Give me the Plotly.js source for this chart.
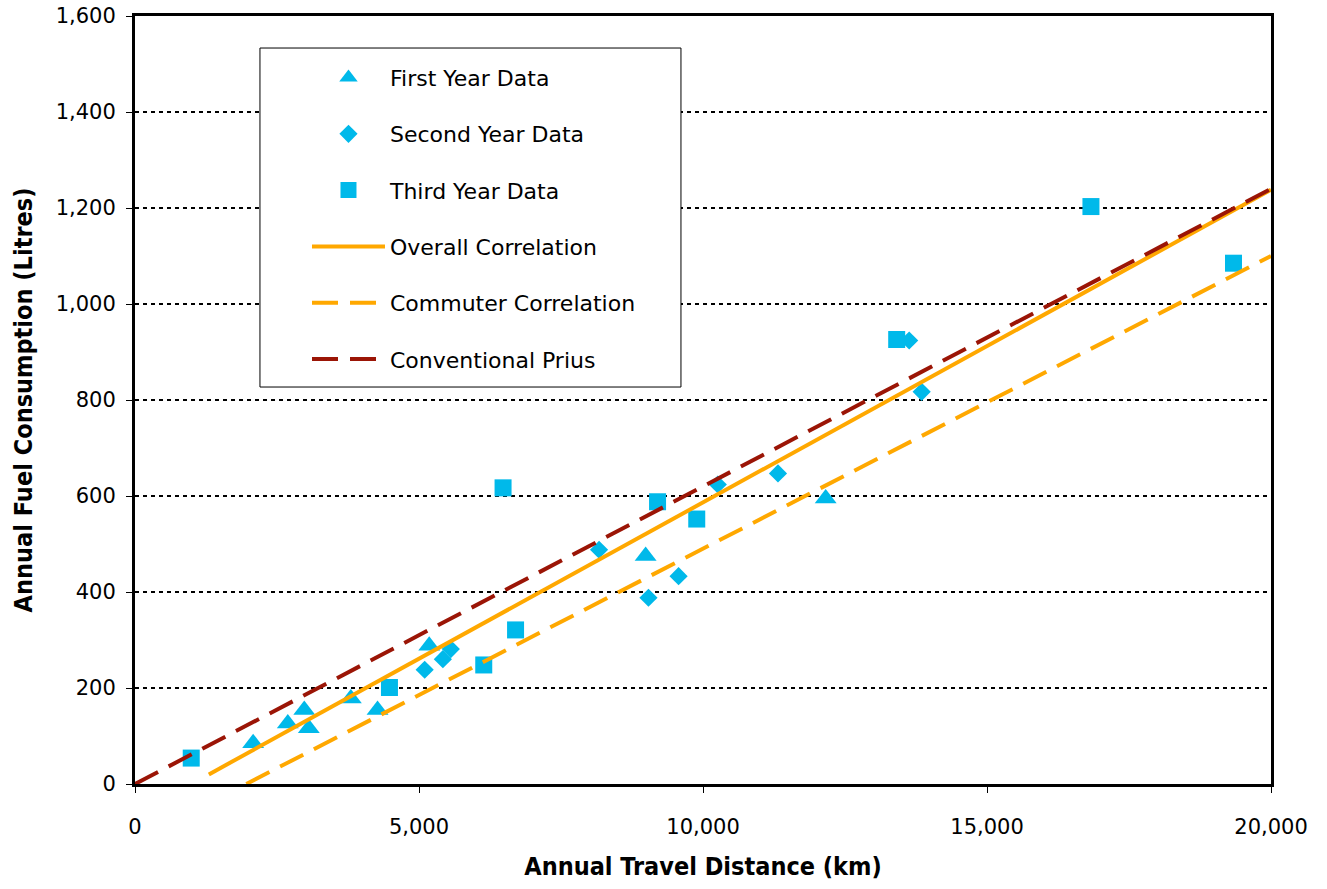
<!DOCTYPE html>
<html>
<head>
<meta charset="utf-8">
<script src="https://cdn.plot.ly/plotly-3.0.1.min.js"></script>
<style>html,body{margin:0;padding:0;background:#fff;}#chart{width:1327px;height:889px;}</style>
</head>
<body>
<div id="chart"></div>
<script>
// First year data (km, litres)
const firstYearX = [2080, 2690, 2980, 3060, 3800, 4270, 5180, 8990, 12160];
const firstYearY = [85, 126, 154, 116, 178, 154, 288, 475, 595];
// Second year data
const secondYearX = [5100, 5420, 5560, 8170, 9040, 9570, 10260, 11320, 13630, 13850];
const secondYearY = [238, 260, 281, 488, 388, 433, 624, 647, 924, 817];
// Third year data
const thirdYearX = [990, 4480, 6140, 6700, 6480, 9200, 9890, 13410, 16830, 19340];
const thirdYearY = [54, 201, 248, 321, 617, 588, 552, 926, 1203, 1085];
// Correlation lines (end points)
const overallX = [1300, 20000];
const overallY = [20, 1238];
const commuterX = [1960, 20000];
const commuterY = [0, 1100];
const priusX = [0, 20000];
const priusY = [0, 1240];

const cyan = '#00B9EA';
const orange = '#FFA800';
const darkRed = '#9B1506';
const tickFont = {family: 'DejaVu Sans, sans-serif', size: 21, color: '#000'};
const titleFont = {family: 'DejaVu Sans Condensed, DejaVu Sans, sans-serif', size: 25, color: '#000', weight: 'bold'};

const traces = [
  {x: firstYearX, y: firstYearY, name: 'First Year Data', mode: 'markers', type: 'scatter', legendgroup: 'a',
   marker: {symbol: 'triangle-up', size: 19, color: cyan}},
  {x: secondYearX, y: secondYearY, name: 'Second Year Data', mode: 'markers', type: 'scatter', legendgroup: 'b',
   marker: {symbol: 'diamond', size: 14, color: cyan}},
  {x: thirdYearX, y: thirdYearY, name: 'Third Year Data', mode: 'markers', type: 'scatter', legendgroup: 'c',
   marker: {symbol: 'square', size: 17, color: cyan}},
  {x: overallX, y: overallY, name: 'Overall Correlation', mode: 'lines', type: 'scatter', legendgroup: 'd',
   line: {color: orange, width: 4}},
  {x: commuterX, y: commuterY, name: 'Commuter Correlation', mode: 'lines', type: 'scatter', legendgroup: 'e',
   line: {color: orange, width: 4, dash: '26px,12px'}},
  {x: priusX, y: priusY, name: 'Conventional Prius', mode: 'lines', type: 'scatter', legendgroup: 'f',
   line: {color: darkRed, width: 4, dash: '26px,12px'}}
];

const layout = {
  width: 1327, height: 889,
  margin: {l: 135, r: 56, t: 16, b: 105},
  paper_bgcolor: '#fff', plot_bgcolor: '#fff',
  showlegend: true,
  legend: {
    x: 0.1514, y: 0.947, xanchor: 'left', yanchor: 'top',
    bgcolor: 'rgba(0,0,0,0)', borderwidth: 0,
    font: {family: 'DejaVu Sans, sans-serif', size: 22, color: '#000'},
    itemwidth: 73, traceorder: 'grouped', tracegroupgap: 24.7
  },
  shapes: [
    {type: 'rect', xref: 'paper', yref: 'paper', x0: 0.110, x1: 0.4806, y0: 0.5169, y1: 0.9583,
     fillcolor: '#fff', line: {color: '#000', width: 1}, layer: 'above'}
  ],
  xaxis: {
    range: [0, 20000], tickvals: [0, 5000, 10000, 15000, 20000], tickformat: ',d',
    showgrid: false, zeroline: false,
    showline: true, mirror: true, linecolor: '#000', linewidth: 3,
    ticks: 'outside', ticklen: 6, tickwidth: 1, tickcolor: '#000',
    tickfont: tickFont, ticklabelstandoff: 16,
    title: {text: 'Annual Travel Distance (km)', font: titleFont, standoff: 20}
  },
  yaxis: {
    range: [0, 1600], tickvals: [0, 200, 400, 600, 800, 1000, 1200, 1400, 1600], tickformat: ',d',
    showgrid: true, gridcolor: '#000', gridwidth: 1.3, griddash: '4px,4px',
    zeroline: false,
    showline: true, mirror: true, linecolor: '#000', linewidth: 3,
    ticks: 'outside', ticklen: 6, tickwidth: 1, tickcolor: '#000',
    tickfont: tickFont, ticklabelstandoff: 6,
    title: {text: 'Annual Fuel Consumption (Litres)', font: titleFont, standoff: 16}
  }
};

Plotly.newPlot('chart', traces, layout, {displayModeBar: false, staticPlot: true});
</script>
</body>
</html>
